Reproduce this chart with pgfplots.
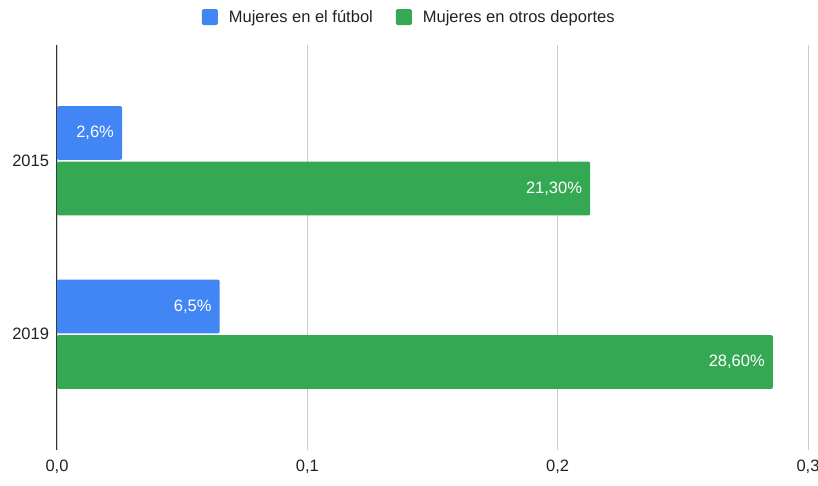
\documentclass[border=0pt]{standalone}
\usepackage{pgfplots}
\pgfplotsset{compat=1.18}
\usepackage{fontspec}
\setmainfont{Liberation Sans}
\definecolor{gblue}{HTML}{4285F4}
\definecolor{ggreen}{HTML}{34A853}
\definecolor{labtxt}{HTML}{222222}
\definecolor{gridc}{HTML}{CCCCCC}
\newcommand{\chartfont}{\fontsize{16.5}{19}\selectfont}

\begin{document}
\begin{tikzpicture}[x=1pt,y=1pt]
% page = 818 x 486, axis area from (57,45) to (808,450) in image pixels
\path[use as bounding box] (-57,-36) rectangle (761,450);
\begin{axis}[
    at={(0,0)}, anchor=south west,
    scale only axis,
    width=751pt, height=405pt,
    xbar,
    bar width=0.31,
    y dir=reverse,
    xmin=0, xmax=0.3,
    ymin=-0.667, ymax=1.667,
    xtick={0,0.1,0.2,0.3},
    xticklabels={{0,0},{0,1},{0,2},{0,3}},
    ytick={0,1},
    yticklabels={2015,2019},
    xmajorgrids,
    grid style={gridc, line width=0.8pt},
    extra x ticks={0},
    extra x tick labels={},
    extra x tick style={grid style={draw=black!80, line width=1pt}},
    axis line style={draw=none},
    major tick length=0pt,
    tick label style={font=\chartfont, text=labtxt},
    xticklabel style={yshift=-6pt},
    yticklabel style={xshift=-4.5pt},
    nodes near coords,
    point meta=explicit symbolic,
    every node near coord/.append style={anchor=east, xshift=-8pt,
        text=white, inner sep=0pt, font=\chartfont},
    legend columns=2,
    legend style={at={(0.469,1.069)}, anchor=center, draw=none, fill=none,
        font=\chartfont, text=labtxt,
        /tikz/every even column/.append style={column sep=21pt}},
    legend image code/.code={\fill[#1] (0pt,-8pt) rectangle (16pt,8pt);
        \path (25pt,0pt);},
]
\addplot[fill=gblue, draw=none, bar shift=-0.16, rounded corners=2pt]
    coordinates {(0.026,0) [2,6\%] (0.065,1) [6,5\%]};
\addlegendentry{Mujeres en el fútbol}
\addplot[fill=ggreen, draw=none, bar shift=0.16, rounded corners=2pt]
    coordinates {(0.213,0) [21,30\%] (0.286,1) [28,60\%]};
\addlegendentry{Mujeres en otros deportes}
\end{axis}
\end{tikzpicture}
\end{document}
